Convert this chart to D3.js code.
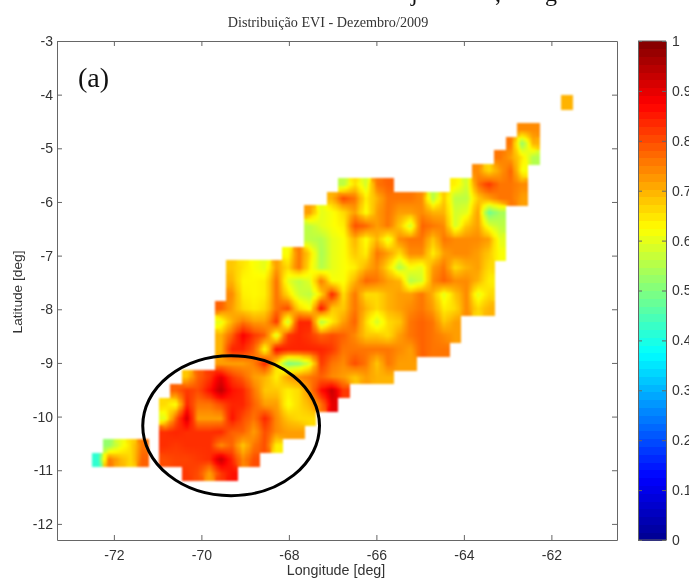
<!DOCTYPE html>
<html>
<head>
<meta charset="utf-8">
<script src="https://d3js.org/d3.v7.min.js"></script>
<style>
  html, body { margin: 0; padding: 0; background: #fff; }
  svg { display: block; filter: blur(0.35px); }
  text { font-family: "Liberation Sans", Arial, sans-serif; fill: #333; }
  .serif { font-family: "Liberation Serif", "Times New Roman", serif; }
  .field { filter: blur(0.9px); }
</style>
</head>
<body>
<div id="chart"></div>
<script>
const _ = null;

// grid of the EVI field, values in hundredths
const lonStart = -72.497, lonStep = 0.2554;
const latStart = -4.012, latStep = 0.2562;

const eviRows = [
  [_,_,_,_,_,_,_,_,_,_,_,_,_,_,_,_,_,_,_,_,_,_,_,_,_,_,_,_,_,_,_,_,_,_,_,_,_,_,_,_,_,_,70],
  [],
  [_,_,_,_,_,_,_,_,_,_,_,_,_,_,_,_,_,_,_,_,_,_,_,_,_,_,_,_,_,_,_,_,_,_,_,_,_,_,74,74],
  [_,_,_,_,_,_,_,_,_,_,_,_,_,_,_,_,_,_,_,_,_,_,_,_,_,_,_,_,_,_,_,_,_,_,_,_,_,76,52,70],
  [_,_,_,_,_,_,_,_,_,_,_,_,_,_,_,_,_,_,_,_,_,_,_,_,_,_,_,_,_,_,_,_,_,_,_,_,76,72,65,55],
  [_,_,_,_,_,_,_,_,_,_,_,_,_,_,_,_,_,_,_,_,_,_,_,_,_,_,_,_,_,_,_,_,_,_,74,66,72,78,62],
  [_,_,_,_,_,_,_,_,_,_,_,_,_,_,_,_,_,_,_,_,_,_,56,66,58,76,78,_,_,_,_,_,64,58,76,82,76,76,74],
  [_,_,_,_,_,_,_,_,_,_,_,_,_,_,_,_,_,_,_,_,_,70,80,76,64,70,76,76,76,74,55,68,56,56,68,72,76,76,72],
  [_,_,_,_,_,_,_,_,_,_,_,_,_,_,_,_,_,_,_,72,60,62,66,72,62,72,76,72,72,74,70,70,58,60,72,48,54],
  [_,_,_,_,_,_,_,_,_,_,_,_,_,_,_,_,_,_,_,56,60,62,64,80,78,72,76,68,58,78,76,74,58,68,72,60,56],
  [_,_,_,_,_,_,_,_,_,_,_,_,_,_,_,_,_,_,_,56,55,60,62,70,62,70,60,74,76,76,68,76,74,74,74,72,60],
  [_,_,_,_,_,_,_,_,_,_,_,_,_,_,_,_,_,62,76,66,54,60,62,68,64,76,72,66,74,74,64,72,74,74,72,68,62],
  [_,_,_,_,_,_,_,_,_,_,_,_,68,65,62,60,72,66,76,64,55,60,62,64,70,74,66,55,62,60,72,76,66,70,72,66],
  [_,_,_,_,_,_,_,_,_,_,_,_,70,63,63,64,76,60,56,60,76,62,62,70,78,76,72,70,55,58,74,78,74,74,70,64],
  [_,_,_,_,_,_,_,_,_,_,_,_,74,64,63,64,76,66,58,56,66,84,66,76,66,66,70,72,72,76,70,60,68,74,60,66],
  [_,_,_,_,_,_,_,_,_,_,_,78,72,66,64,66,76,80,66,62,86,68,68,76,70,66,70,72,74,76,72,64,66,74,66,70],
  [_,_,_,_,_,_,_,_,_,_,_,60,70,76,72,72,82,56,84,84,54,64,72,78,66,58,66,68,76,78,76,68,72],
  [_,_,_,_,_,_,_,_,_,_,_,70,78,88,82,78,60,82,84,82,78,80,78,74,68,68,66,72,76,78,76,74,72],
  [_,_,_,_,_,_,_,_,_,_,_,70,84,84,78,62,86,84,84,84,84,82,76,76,76,76,76,74,72,78,76,76],
  [_,_,_,_,_,_,_,_,_,_,_,72,72,72,75,84,66,50,52,60,82,76,74,80,76,68,76,72,72],
  [_,_,_,_,_,_,_,_,68,78,82,90,82,78,72,70,64,72,74,76,78,74,72,68,72,70,70],
  [_,_,_,_,_,_,_,78,82,80,86,94,86,84,76,68,68,64,66,74,86,93,82],
  [_,_,_,_,_,_,66,62,84,76,76,80,84,84,78,72,72,62,66,70,76,90],
  [_,_,_,_,_,_,60,78,92,72,72,72,86,80,76,84,74,68,66,66],
  [_,_,_,_,_,_,83,84,83,83,83,84,78,78,72,80,74,72,72],
  [_,52,60,66,76,_,83,82,83,83,83,74,78,68,76,80,64],
  [42,76,70,66,78,_,80,81,81,82,83,93,84,74,80],
  [_,_,_,_,_,_,_,_,82,80,72,82,86]
];

// MATLAB jet stops used by the colour bar
const jetStops = [0, 0.125, 0.375, 0.625, 0.875, 1];
const jetColors = ["#00008f", "#0000ff", "#00ffff", "#ffff00", "#ff0000", "#800000"];

const lonTicks = [-72, -70, -68, -66, -64, -62];
const latTicks = [-3, -4, -5, -6, -7, -8, -9, -10, -11, -12];
const barTicks = [0, 0.1, 0.2, 0.3, 0.4, 0.5, 0.6, 0.7, 0.8, 0.9, 1];

const width = 689, height = 579;
const margin = {top: 41, right: 72, bottom: 39, left: 57};
const axisColor = "#666";

let svg = d3.select("#chart").append("svg")
    .attr("width", width)
    .attr("height", height);

let x = d3.scaleLinear().domain([-73.3, -60.5]).range([margin.left, width - margin.right]);
let y = d3.scaleLinear().domain([-3, -12.3]).range([margin.top, height - margin.bottom]);
let jet = d3.scaleLinear().domain(jetStops).range(jetColors);

//value of a cell, or the fallback if the neighbour lies outside the region
function valueAt(r, c, fallback) {
    let row = eviRows[r];
    if (!row || row[c] == null) return fallback;
    return row[c];
}

//every cell is shaded from its neighbours, same look as shading interp
const subCells = 5;
let shaded = [];
eviRows.forEach((row, r) => {
    row.forEach((v, c) => {
        if (v == null) return;
        for (let i = 0; i < subCells; i++) {
            for (let j = 0; j < subCells; j++) {
                let gx = c + (j + 0.5) / subCells - 0.5;
                let gy = r + (i + 0.5) / subCells - 0.5;
                let c0 = Math.floor(gx), r0 = Math.floor(gy);
                let fx = gx - c0, fy = gy - r0;
                let top = valueAt(r0, c0, v) * (1 - fx) + valueAt(r0, c0 + 1, v) * fx;
                let bottom = valueAt(r0 + 1, c0, v) * (1 - fx) + valueAt(r0 + 1, c0 + 1, v) * fx;
                shaded.push({
                    lon: lonStart + (c + j / subCells) * lonStep,
                    lat: latStart - (r + i / subCells) * latStep,
                    value: (top * (1 - fy) + bottom * fy) / 100
                });
            }
        }
    });
});

let dLon = lonStep / subCells, dLat = latStep / subCells;

svg.append("g")
    .attr("class", "field")
    .attr("shape-rendering", "crispEdges")
    .selectAll("rect")
    .data(shaded)
    .join("rect")
    .attr("x", d => x(d.lon))
    .attr("y", d => y(d.lat))
    .attr("width", d => x(d.lon + dLon) - x(d.lon) + 0.5)
    .attr("height", d => y(d.lat - dLat) - y(d.lat) + 0.5)
    .attr("fill", d => jet(d.value));

//axes with mirrored ticks on the opposite sides
function styleAxis(g) {
    g.selectAll("path, line").attr("stroke", axisColor);
    g.selectAll("text").attr("fill", "#333").style("font-size", "14px");
}

//plain hyphen for the negative labels, as in the picture
const plainTick = d => String(d);

svg.append("g")
    .attr("transform", `translate(0,${y(-12.3)})`)
    .call(d3.axisBottom(x).tickValues(lonTicks).tickSizeInner(-5).tickSizeOuter(0).tickPadding(10).tickFormat(plainTick))
    .call(styleAxis);
svg.append("g")
    .attr("transform", `translate(0,${y(-3)})`)
    .call(d3.axisTop(x).tickValues(lonTicks).tickSizeInner(-5).tickSizeOuter(0).tickFormat(""))
    .call(styleAxis);
svg.append("g")
    .attr("transform", `translate(${x(-73.3)},0)`)
    .call(d3.axisLeft(y).tickValues(latTicks).tickSizeInner(-5).tickSizeOuter(0).tickPadding(4).tickFormat(plainTick))
    .call(styleAxis);
svg.append("g")
    .attr("transform", `translate(${x(-60.5)},0)`)
    .call(d3.axisRight(y).tickValues(latTicks).tickSizeInner(-5).tickSizeOuter(0).tickFormat(""))
    .call(styleAxis);

svg.append("text")
    .attr("x", 336).attr("y", 575)
    .attr("text-anchor", "middle")
    .style("font-size", "14.3px")
    .text("Longitude [deg]");

svg.append("text")
    .attr("transform", "translate(22,292) rotate(-90)")
    .attr("text-anchor", "middle")
    .style("font-size", "13.7px")
    .text("Latitude [deg]");

svg.append("text")
    .attr("class", "serif")
    .attr("x", 328).attr("y", 27)
    .attr("text-anchor", "middle")
    .style("font-size", "14.2px")
    .text("Distribuição EVI - Dezembro/2009");

svg.append("text")
    .attr("class", "serif")
    .attr("x", 78).attr("y", 87)
    .style("font-size", "28px")
    .style("fill", "#111")
    .text("(a)");

//leftovers of the page text cut by the top of the picture
svg.selectAll("text.cut")
    .data([["j", 411], [",", 495], ["g", 545]])
    .join("text")
    .attr("class", "cut serif")
    .attr("x", d => d[1]).attr("y", 1)
    .style("font-size", "24px")
    .style("fill", "#111")
    .text(d => d[0]);

//circled region
svg.append("ellipse")
    .attr("cx", x(-69.32)).attr("cy", y(-10.17))
    .attr("rx", x(-69.32 + 2.02) - x(-69.32))
    .attr("ry", y(-10.17 - 1.304) - y(-10.17))
    .attr("fill", "none")
    .attr("stroke", "#000")
    .attr("stroke-width", 3);

//colour bar, 64 levels like the MATLAB colormap
const barLeft = 638, barRight = 666;
let barY = d3.scaleLinear().domain([0, 1]).range([y(-12.3), y(-3)]);
let levels = d3.range(64);

svg.append("g")
    .attr("shape-rendering", "crispEdges")
    .selectAll("rect")
    .data(levels)
    .join("rect")
    .attr("x", barLeft)
    .attr("width", barRight - barLeft)
    .attr("y", d => barY((d + 1) / 64))
    .attr("height", d => barY(d / 64) - barY((d + 1) / 64) + 0.5)
    .attr("fill", d => jet((d + 0.5) / 64));

svg.append("g")
    .attr("transform", `translate(${barRight},0)`)
    .call(d3.axisRight(barY).tickValues(barTicks).tickSizeInner(-4).tickSizeOuter(0).tickPadding(6).tickFormat(d3.format("~g")))
    .call(styleAxis);
svg.append("g")
    .attr("transform", `translate(${barLeft},0)`)
    .call(d3.axisLeft(barY).tickValues(barTicks).tickSizeInner(-4).tickSizeOuter(0).tickFormat(""))
    .call(styleAxis);
svg.append("line")
    .attr("x1", barLeft).attr("x2", barRight)
    .attr("y1", barY(1)).attr("y2", barY(1))
    .attr("stroke", axisColor);
svg.append("line")
    .attr("x1", barLeft).attr("x2", barRight)
    .attr("y1", barY(0)).attr("y2", barY(0))
    .attr("stroke", axisColor);
</script>
</body>
</html>
